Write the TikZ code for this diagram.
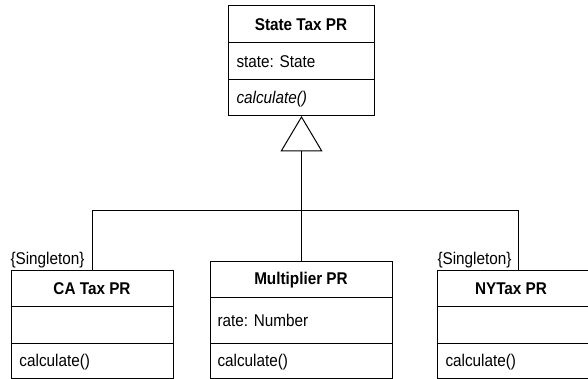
\documentclass[tikz,border=0pt]{standalone}
\usepackage{fontspec}
\setmainfont{Liberation Sans}[FakeStretch=0.9]
\usetikzlibrary{arrows.meta}
\begin{document}
\begin{tikzpicture}[x=1pt,y=-1pt,
  line width=1pt,
  classbox/.style={draw,rectangle,inner sep=0pt,anchor=north west},
  ttl/.style={font=\fontsize{17}{20}\selectfont\bfseries,inner sep=0pt,anchor=base},
  member/.style={font=\fontsize{17}{20}\selectfont,inner sep=0pt,anchor=base west},
  note/.style={font=\fontsize{17}{20}\selectfont,inner sep=0pt,anchor=base west},
  inherit/.style={-{Triangle[open,length=35.5pt,width=42pt]}}]
\useasboundingbox (0,0) rectangle (588,379);
\clip (0,0) rectangle (588,379);

% State Tax PR (abstract parent)
\node[classbox,minimum width=146pt,minimum height=109.5pt] (st) at (228,5.5) {};
\draw (228,43) -- (374,43);
\draw (228,80) -- (374,80);
\node[ttl] (stT) at (301,30.2) {State Tax PR};
\node[member] (stA) at (236,67.7) {state: State};
\node[member,font=\fontsize{17}{20}\selectfont\itshape] (stO) at (236,103.7) {calculate()};

% Multiplier PR
\node[classbox,minimum width=182pt,minimum height=117.5pt] (mp) at (210,260.5) {};
\draw (210,297) -- (392,297);
\draw (210,343) -- (392,343);
\node[ttl] (mpT) at (301,284.9) {Multiplier PR};
\node[member] (mpA) at (217,326.2) {rate: Number};
\node[member] (mpO) at (217,366.7) {calculate()};

% CA Tax PR
\node[classbox,minimum width=162.5pt,minimum height=108pt] (ca) at (10.7,270) {};
\draw (10.7,306.5) -- (173.2,306.5);
\draw (10.7,343) -- (173.2,343);
\node[ttl] (caT) at (92,294.5) {CA Tax PR};
\node[member] (caO) at (19,366.7) {calculate()};
\node[note] (caN) at (10,264.5) {\{Singleton\}};

% NYTax PR
\node[classbox,minimum width=152pt,minimum height=108pt] (ny) at (436.7,270) {};
\draw (436.7,306.5) -- (588.7,306.5);
\draw (436.7,343) -- (588.7,343);
\node[ttl] (nyT) at (511,294.5) {NYTax PR};
\node[member] (nyO) at (445,366.7) {calculate()};
\node[note] (nyN) at (437,264.5) {\{Singleton\}};

% generalisation connectors
\coordinate (bus) at (301,211);
\coordinate (nyTop) at (518.3,270);
\draw[inherit] (mp.north) -- (st.south);
\draw (ca.north) -- (ca.north |- bus) -- (nyTop |- bus) -- (nyTop);
\end{tikzpicture}
\end{document}
